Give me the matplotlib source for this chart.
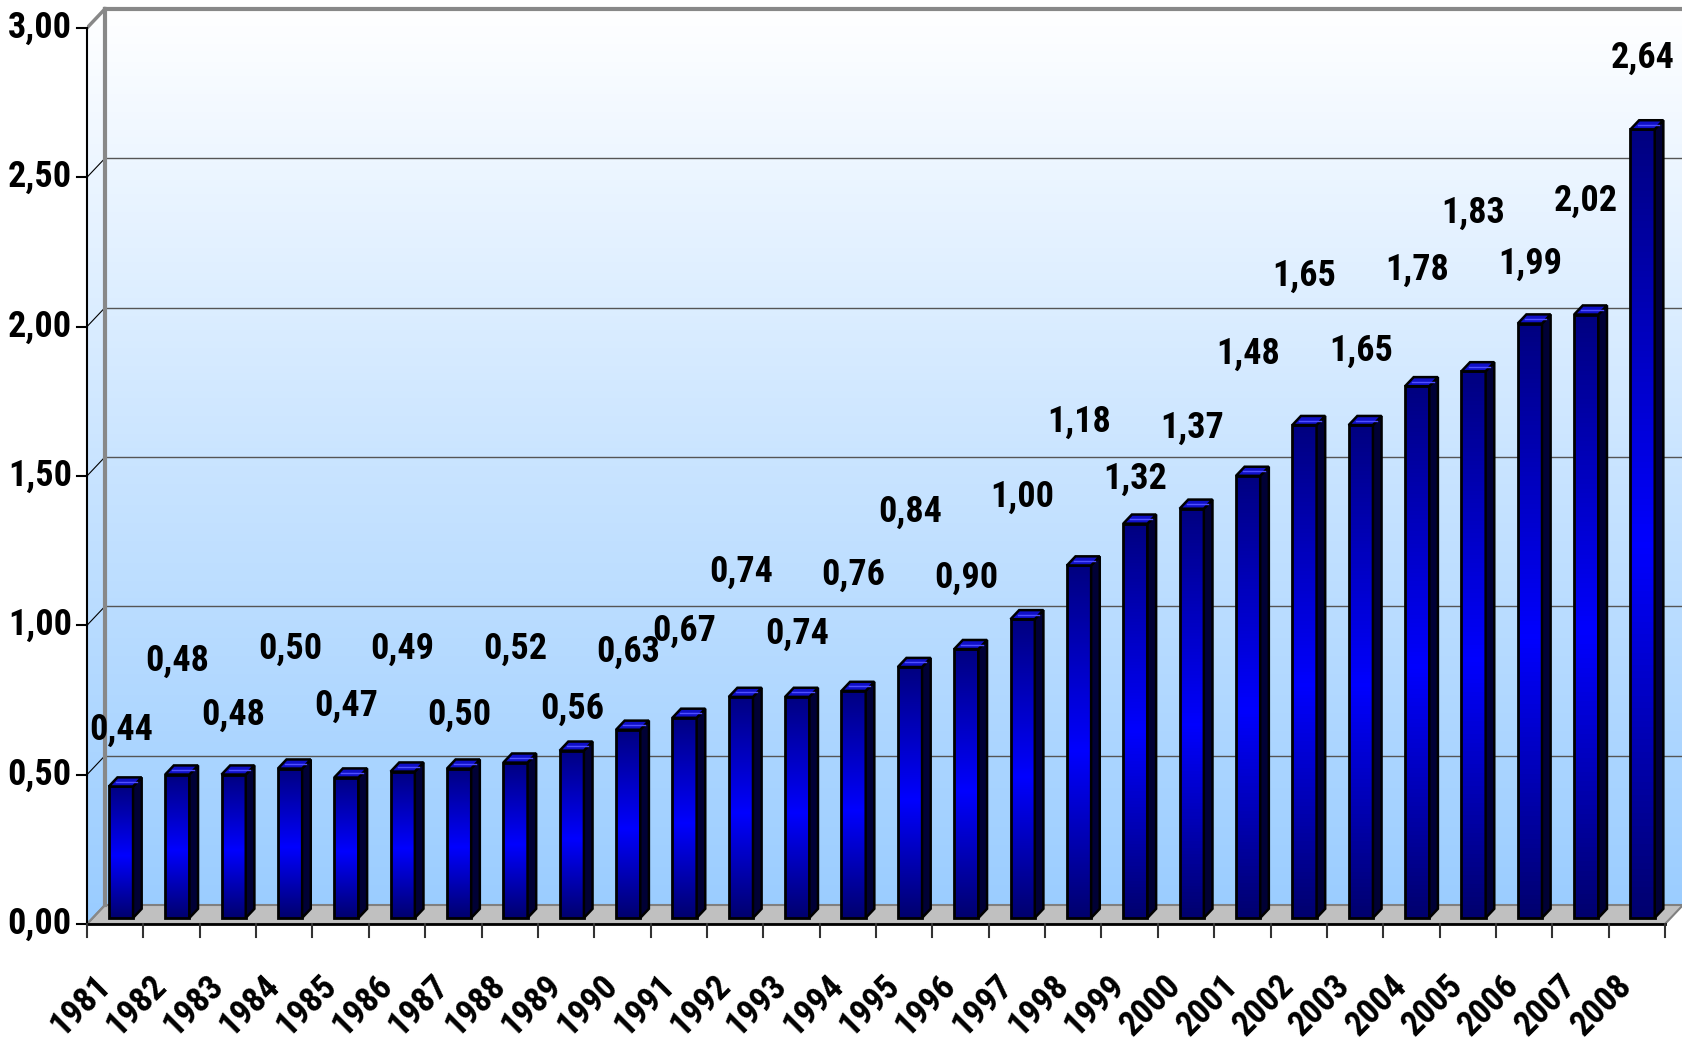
import matplotlib
matplotlib.use('Agg')
import matplotlib.pyplot as plt
from matplotlib.patches import Polygon
from matplotlib.colors import LinearSegmentedColormap
import numpy as np

years = [str(y) for y in range(1981, 2009)]
values = [0.44, 0.48, 0.48, 0.50, 0.47, 0.49, 0.50, 0.52, 0.56, 0.63,
          0.67, 0.74, 0.74, 0.76, 0.84, 0.90, 1.00, 1.18, 1.32, 1.37,
          1.48, 1.65, 1.65, 1.78, 1.83, 1.99, 2.02, 2.64]
# height of each value label (data units)
label_y = [0.65, 0.88, 0.70, 0.92, 0.73, 0.92, 0.70, 0.92, 0.72, 0.91,
           0.98, 1.18, 0.97, 1.17, 1.38, 1.16, 1.43, 1.68, 1.49, 1.66,
           1.91, 2.17, 1.92, 2.19, 2.38, 2.21, 2.42, 2.90]
yticks = [0.0, 0.5, 1.0, 1.5, 2.0, 2.5, 3.0]
ytick_labels = ['0,00', '0,50', '1,00', '1,50', '2,00', '2,50', '3,00']

FONT = ['Roboto Condensed', 'DejaVu Sans']
STRETCH = 'condensed'
n = len(years)
ymax = 3.0
dx, dy = 0.319, 0.0636       # depth of the box (category / value units)
z0, z1 = 0.32, 0.80          # bar depth inside the box
bw = 0.43                    # bar width

fig = plt.figure(figsize=(16.83, 10.39), dpi=100)
ax = fig.add_axes([87 / 1683, 115 / 1039, 1596 / 1683, 924 / 1039])
ax.set_xlim(0, n + dx)
ax.set_ylim(0, 924 / 298.7)
ax.axis('off')

# background walls with vertical gradient
wall_cmap = LinearSegmentedColormap.from_list('wall', ['#99ccff', '#c9e4ff', '#ffffff'])
grad = np.linspace(0, 1, 256).reshape(-1, 1)
im = ax.imshow(grad, cmap=wall_cmap, origin='lower', aspect='auto',
               extent=[0, n + dx, 0, ymax + dy], zorder=0)
clip = Polygon([(0, 0), (0, ymax), (dx, ymax + dy), (n + dx, ymax + dy),
                (n + dx, dy), (n, 0)], closed=True, transform=ax.transData)
im.set_clip_path(clip)

# grid lines on the back wall and the left wall
for t in yticks:
    if 0 < t < ymax:
        ax.plot([dx, n + dx], [t + dy, t + dy], color='#555555', lw=1, zorder=1)
    if t > 0:
        ax.plot([0, dx], [t, t + dy], color='black', lw=0.8, zorder=1)

# floor
ax.add_patch(Polygon([(0, 0), (n, 0), (n + dx, dy), (dx, dy)], closed=True,
                     facecolor='#c0c0c0', edgecolor='#808080', lw=1.5, zorder=2))

# box frame
ax.plot([dx, dx], [dy, ymax + dy], color='#888888', lw=3, zorder=2)
ax.plot([dx, n + dx], [ymax + dy, ymax + dy], color='#888888', lw=3, zorder=2, clip_on=False)
ax.plot([0, dx], [ymax, ymax + dy], color='#888888', lw=2.5, zorder=2)
ax.plot([0, dx], [0, dy], color='#888888', lw=1.5, zorder=2)
ax.plot([0, 0], [0, ymax], color='black', lw=1.5, zorder=3, clip_on=False)
ax.plot([0, n], [0, 0], color='black', lw=2, zorder=3, clip_on=False)

# y ticks and labels
for t, lab in zip(yticks, ytick_labels):
    ax.plot([-0.18, 0], [t, t], color='black', lw=1.5, clip_on=False, zorder=3)
    ax.text(-0.27, t, lab, ha='right', va='center', fontsize=26,
            fontweight='bold', family=FONT, fontstretch=STRETCH, clip_on=False)

# x ticks and labels
for i in range(n + 1):
    ax.plot([i, i], [0, -0.045], color='#333333', lw=1.5, clip_on=False, zorder=3)
for i, yr in enumerate(years):
    ax.text(i + 0.12, -0.15, yr, rotation=45, rotation_mode='anchor',
            ha='right', va='top', fontsize=25, fontweight='bold',
            family=FONT, fontstretch=STRETCH, clip_on=False)

# bars
bar_cmap = LinearSegmentedColormap.from_list(
    'bar', [(0.0, '#00006e'), (0.47, '#0000ff'), (1.0, '#000080')])
bgrad = np.linspace(0, 1, 128).reshape(-1, 1)
for i, v in enumerate(values):
    x0 = i + 0.5 - bw / 2 + z0 * dx
    x1 = x0 + bw
    y0 = z0 * dy
    y1 = y0 + v
    ddx = (z1 - z0) * dx
    ddy = (z1 - z0) * dy
    ax.imshow(bgrad, cmap=bar_cmap, origin='lower', aspect='auto',
              extent=[x0, x1, y0, y1], zorder=4)
    ax.add_patch(Polygon([(x0, y0), (x1, y0), (x1, y1), (x0, y1)], closed=True,
                         fill=False, edgecolor='black', lw=2, zorder=5))
    ax.add_patch(Polygon([(x1, y0), (x1 + ddx, y0 + ddy), (x1 + ddx, y1 + ddy), (x1, y1)],
                         closed=True, facecolor='#000035', edgecolor='black', lw=1.8, zorder=5))
    ax.add_patch(Polygon([(x0, y1), (x1, y1), (x1 + ddx, y1 + ddy), (x0 + ddx, y1 + ddy)],
                         closed=True, facecolor='#1010c8', edgecolor='black', lw=1.8, zorder=5))
    ax.plot([x0 + ddx * 0.5 + 0.05, x1 + ddx * 0.5], [y1 + ddy * 0.5, y1 + ddy * 0.5],
            color='#5050ff', lw=1, zorder=6)
    ax.text(i + 0.5 + z0 * dx, label_y[i], f'{v:.2f}'.replace('.', ','),
            ha='center', va='center', fontsize=26, fontweight='bold',
            family=FONT, fontstretch=STRETCH, zorder=7)

fig.savefig('out.png', dpi=100)
